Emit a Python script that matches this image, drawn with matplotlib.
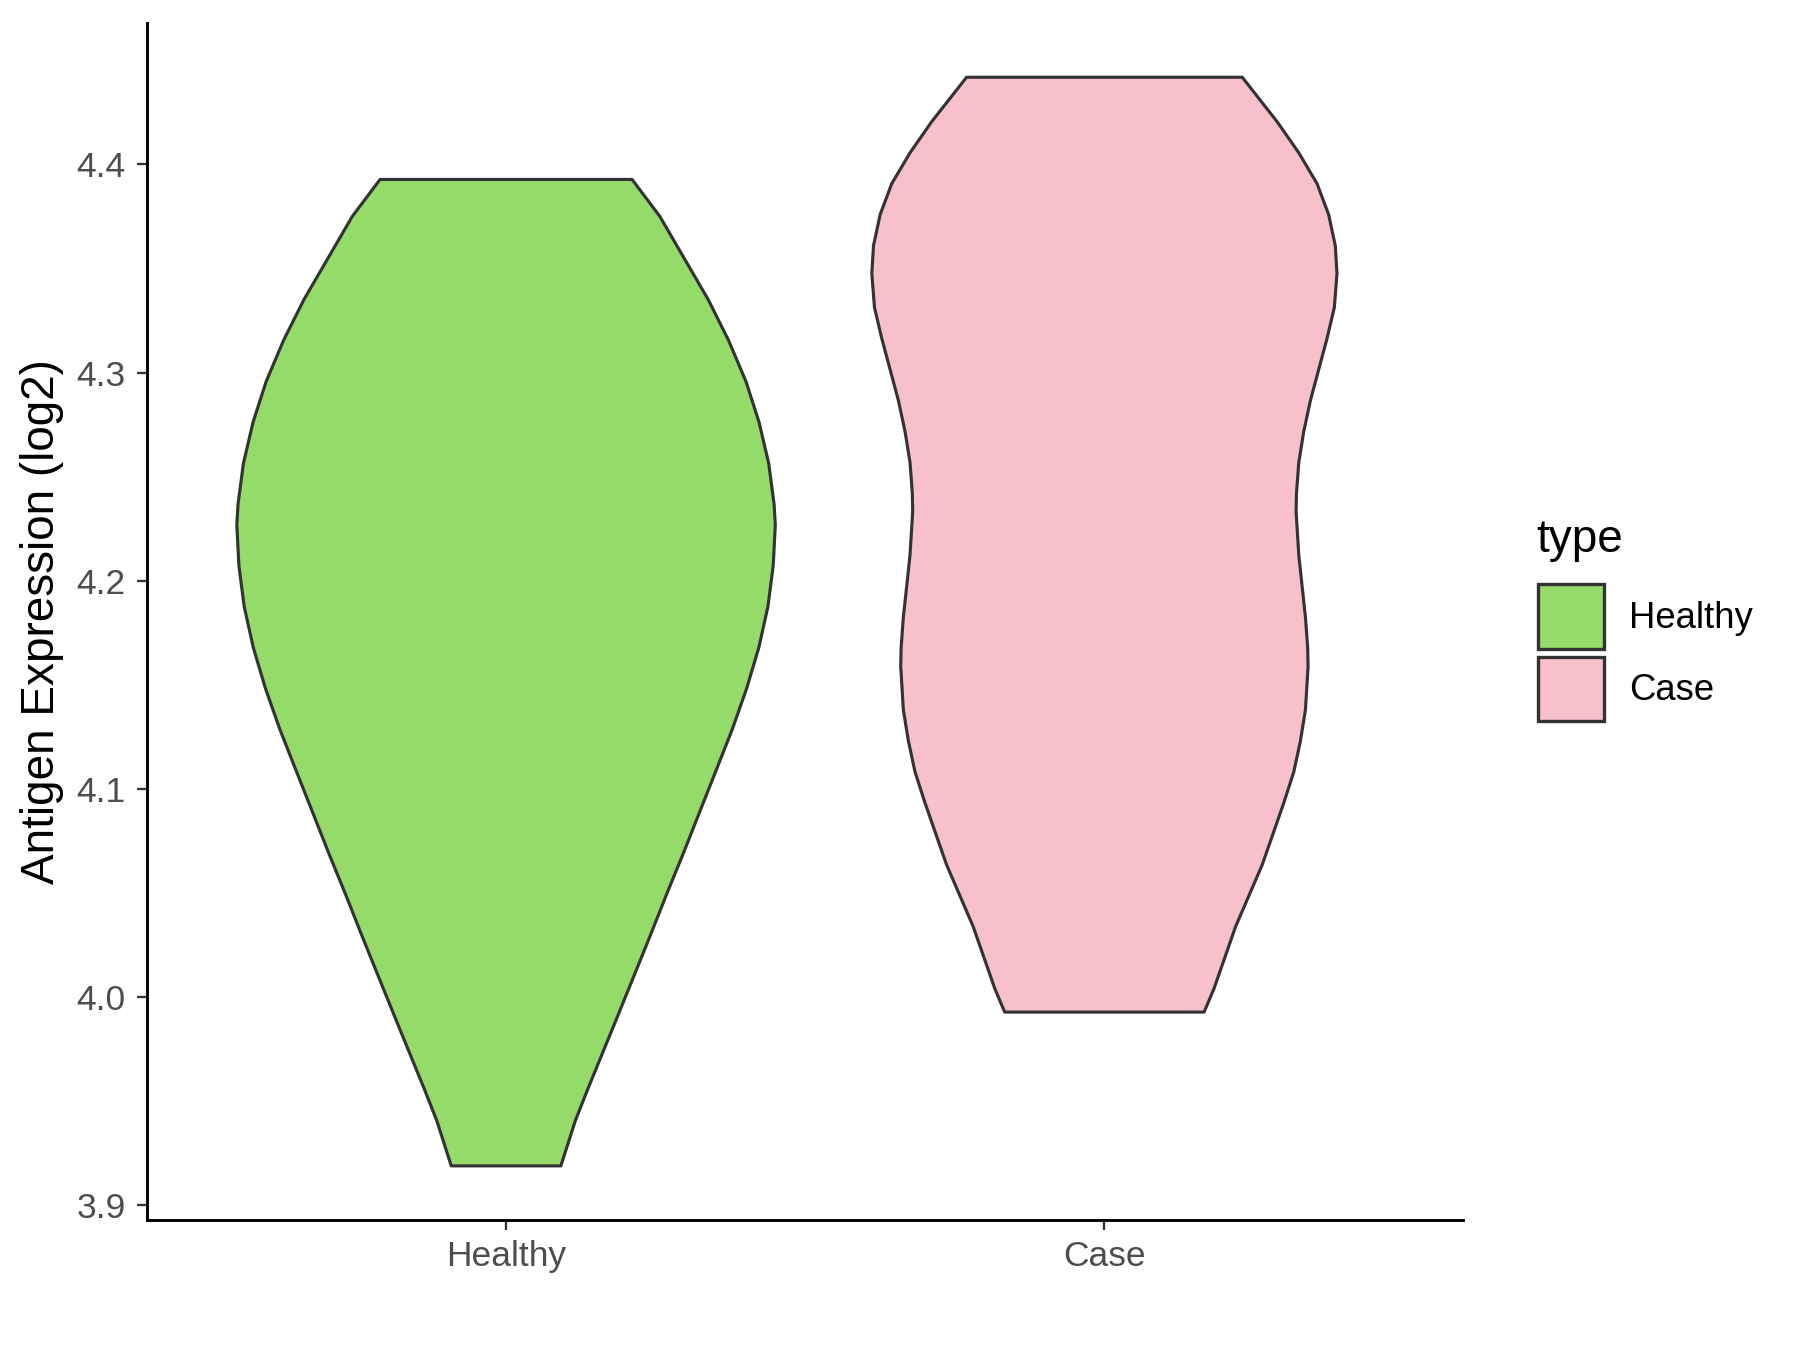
import matplotlib.pyplot as plt
import numpy as np
from matplotlib.patches import Patch

plt.rcParams['font.family'] = ['Liberation Sans', 'DejaVu Sans']

categories = ["Healthy", "Case"]
colors = ["#94DB6A", "#F7C0CB"]

# violin outlines: expression level and half-width (in category units)
healthy_y = [4.3928, 4.3751, 4.3350, 4.3154, 4.2957, 4.2760, 4.2563, 4.2367, 4.2268,
             4.2072, 4.1875, 4.1679, 4.1481, 4.1285, 4.1088, 4.0892, 4.0695, 4.0498, 4.0266,
             3.9890, 3.9567, 3.9407, 3.9188]
healthy_w = [0.2106, 0.2569, 0.3380, 0.3720, 0.4010, 0.4230, 0.4390, 0.4480, 0.4500,
             0.4465, 0.4376, 0.4225, 0.4020, 0.3780, 0.3510, 0.3240, 0.2970, 0.2690, 0.2370,
             0.1840, 0.1380, 0.1160, 0.0916]

case_y = [4.4419, 4.4205, 4.4056, 4.3908, 4.3759, 4.3610, 4.3476, 4.3313, 4.3164, 4.3015,
          4.2866, 4.2717, 4.2569, 4.2420, 4.2331, 4.2123, 4.1974, 4.1825, 4.1676, 4.1587,
          4.1379, 4.1230, 4.1081, 4.0933, 4.0635, 4.0338, 4.0040, 3.9927]
case_w = [0.2304, 0.2888, 0.3249, 0.3554, 0.3748, 0.3859, 0.3887, 0.3843, 0.3721, 0.3582,
          0.3443, 0.3332, 0.3249, 0.3210, 0.3204, 0.3249, 0.3304, 0.3360, 0.3398, 0.3404,
          0.3360, 0.3276, 0.3165, 0.2999, 0.2638, 0.2193, 0.1832, 0.1666]

yticks = [3.9, 4.0, 4.1, 4.2, 4.3, 4.4]

fig = plt.figure(figsize=(12, 9), dpi=150)
ax = fig.add_axes([0.0817, 0.0963, 0.7313, 0.8867])

profiles = [(healthy_y, healthy_w), (case_y, case_w)]
for i, (yy, ww) in enumerate(profiles):
    pos = i + 1
    yy = np.array(yy)
    ww = np.array(ww)
    xs = np.concatenate([pos - ww, (pos + ww)[::-1]])
    ys = np.concatenate([yy, yy[::-1]])
    ax.fill(xs, ys, facecolor=colors[i], edgecolor="#333333", linewidth=1.5,
            joinstyle="round", zorder=2)

ax.set_xlim(0.4, 2.6)
ax.set_ylim(3.8928, 4.468)
ax.set_xticks([1, 2])
ax.set_xticklabels(categories)
ax.set_yticks(yticks)
ax.set_yticklabels(["%.1f" % t for t in yticks])

for s in ["top", "right"]:
    ax.spines[s].set_visible(False)
for s in ["left", "bottom"]:
    ax.spines[s].set_linewidth(1.4)
    ax.spines[s].set_color("black")

ax.tick_params(axis="both", length=4.8, width=1.1, color="#333333",
               labelcolor="#4D4D4D", labelsize=17)
ax.tick_params(axis="y", pad=5.5)
ax.tick_params(axis="x", pad=5)
ax.set_ylabel("Antigen Expression (log2)", fontsize=22, color="black", labelpad=6)

# legend
fig.text(0.8533, 0.6003, "type", fontsize=22, ha="left", va="center")
handles = [Patch(facecolor=colors[i], edgecolor="#333333", linewidth=1.6, label=categories[i])
           for i in range(2)]
leg = fig.legend(handles=handles, loc="upper left", bbox_to_anchor=(0.8441, 0.5807),
                 frameon=False, fontsize=17.5, borderpad=0, handlelength=1.83,
                 handleheight=2.34, labelspacing=0.22, handletextpad=0.69)

fig.savefig("out.png", dpi=150)
